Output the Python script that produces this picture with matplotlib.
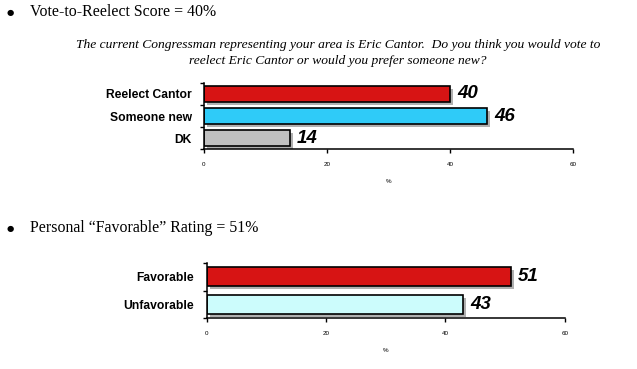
import matplotlib
matplotlib.use("Agg")
import matplotlib.pyplot as plt
import matplotlib.patheffects as pe

# datos
cats_top = ["Reelect Cantor", "Someone new", "DK"]
vals_top = [40, 46, 14]
cols_top = ["#d71414", "#2fcbf8", "#c0c0c0"]

cats_bot = ["Favorable", "Unfavorable"]
vals_bot = [51, 43]
cols_bot = ["#d71414", "#ccfcfc"]

xticks = [0, 20, 40, 60]

serif = ["Liberation Serif", "DejaVu Serif"]
sans = ["Liberation Sans", "DejaVu Sans"]

fig = plt.figure(figsize=(6.37, 3.69), dpi=100)
fig.patch.set_facecolor("white")

W, H = 637, 369


def px(x, y):
    return x / W, 1 - y / H


def draw_bars(ax, cats, vals, cols, height):
    ypos = list(range(len(cats)))
    shadow = [pe.SimplePatchShadow(offset=(2.2, -2.2), shadow_rgbFace="#b0b0b0", alpha=1), pe.Normal()]
    bars = ax.barh(ypos, vals, height=height, color=cols, edgecolor="black", linewidth=1.2)
    for b in bars:
        b.set_path_effects(shadow)
    for y, v in zip(ypos, vals):
        ax.annotate(str(v), xy=(v, y), xytext=(5, 0), textcoords="offset points",
                    ha="left", va="center", fontsize=13.5, fontweight="bold",
                    fontstyle="italic", family=sans)
    ax.set_xlim(0, 60)
    ax.set_ylim(len(cats) - 0.5, -0.5)
    ax.set_xticks(xticks)
    ax.set_xticklabels([str(t) for t in xticks], fontsize=4.5, family=sans)
    ax.set_yticks([i - 0.5 for i in range(len(cats) + 1)], minor=False)
    ax.set_yticklabels([])
    ax.set_yticks(ypos, minor=True)
    ax.set_yticklabels(cats, minor=True, fontsize=8.7, fontweight="bold", family=sans)
    ax.tick_params(axis="y", which="minor", length=0, pad=9)
    ax.tick_params(axis="y", which="major", length=3, width=1)
    ax.tick_params(axis="x", length=3, width=1, pad=6)
    ax.set_xlabel("%", fontsize=4.5, family=sans, labelpad=9)
    for s in ["top", "right"]:
        ax.spines[s].set_visible(False)
    for s in ["left", "bottom"]:
        ax.spines[s].set_linewidth(1.1)


# grafico superior
l, t = px(204, 82.7)
r, b = px(573, 149.3)
ax1 = fig.add_axes([l, b, r - l, t - b])
draw_bars(ax1, cats_top, vals_top, cols_top, 0.7)

# grafico inferior
l, t = px(206.7, 262.7)
r, b = px(564.7, 318.3)
ax2 = fig.add_axes([l, b, r - l, t - b])
draw_bars(ax2, cats_bot, vals_bot, cols_bot, 0.66)

# encabezados con viñeta
for ytxt, txt in [(12, "Vote-to-Reelect Score = 40%"),
                  (228, "Personal \u201cFavorable\u201d Rating = 51%")]:
    fig.text(*px(10, ytxt), "\u25cf", fontsize=6, ha="center", va="center", family=["DejaVu Sans"])
    fig.text(*px(30, ytxt), txt, fontsize=11.4, ha="left", va="center", family=serif)

# pregunta
fig.text(*px(338, 45), "The current Congressman representing your area is Eric Cantor.  Do you think you would vote to",
         fontsize=9.7, ha="center", va="center", style="italic", family=serif)
fig.text(*px(338, 61), "reelect Eric Cantor or would you prefer someone new?",
         fontsize=9.7, ha="center", va="center", style="italic", family=serif)

fig.savefig("out.png", dpi=100, facecolor="white")
